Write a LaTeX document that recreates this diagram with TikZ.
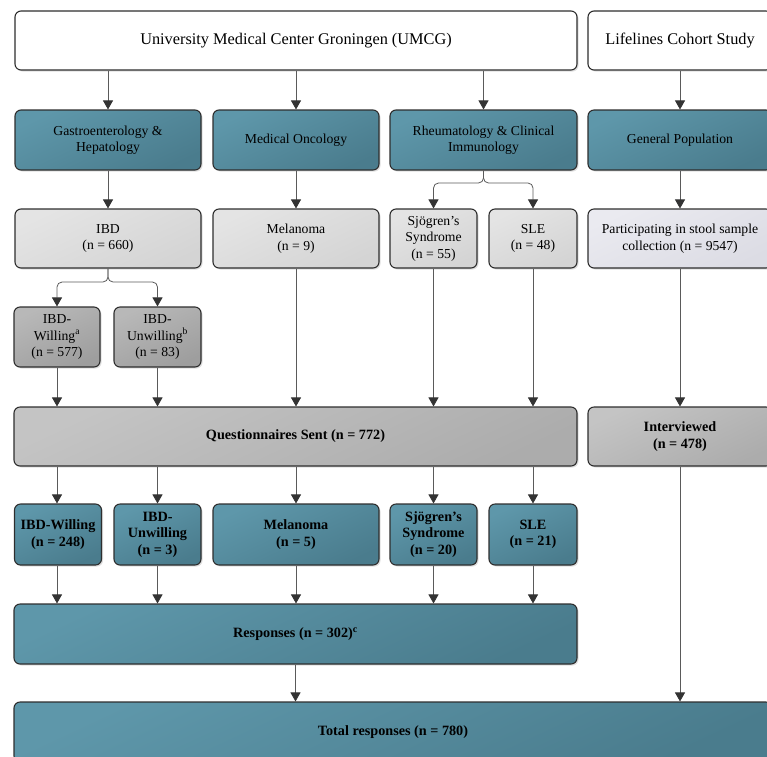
\documentclass[tikz,border=0pt]{standalone}
\usepackage{fontspec}
\setmainfont{Liberation Serif}
\usetikzlibrary{arrows.meta,shadows}
\definecolor{tealL}{HTML}{5E97AA}
\definecolor{tealD}{HTML}{4A7C8D}
\definecolor{grayL}{HTML}{E4E4E4}
\definecolor{grayLD}{HTML}{D4D4D4}
\definecolor{grayM}{HTML}{C4C4C4}
\definecolor{grayMD}{HTML}{ACACAC}
\definecolor{grayW}{HTML}{B8B8B8}
\definecolor{grayWD}{HTML}{9E9E9E}
\definecolor{lav}{HTML}{EAEAF0}
\definecolor{lavD}{HTML}{DCDCE4}
\definecolor{edge}{HTML}{2E2E2E}
\definecolor{linec}{HTML}{5A5A5A}
\definecolor{tipc}{HTML}{333333}
\tikzset{
  base/.style={draw=edge, line width=1.1pt, rounded corners=6pt, align=center,
    inner sep=2pt, drop shadow={opacity=0.25, shadow xshift=1.5pt, shadow yshift=-1.5pt}},
  grad/.style 2 args={left color=#1, right color=#2, shading angle=25},
  whitebox/.style={base, fill=white, font=\fontsize{16.3}{19}\selectfont},
  tealbox/.style={base, grad={tealL}{tealD}, font=\fontsize{13.7}{16.5}\selectfont},
  tealbold/.style={base, grad={tealL}{tealD}, font=\fontsize{14.2}{16.5}\selectfont\bfseries},
  lightbox/.style={base, grad={grayL}{grayLD}, font=\fontsize{13.7}{16.5}\selectfont},
  lavbox/.style={base, grad={lav}{lavD}, font=\fontsize{13.7}{16.5}\selectfont},
  willbox/.style={base, grad={grayW}{grayWD}, font=\fontsize{13.7}{16.5}\selectfont},
  qbox/.style={base, grad={grayM}{grayMD}, font=\fontsize{14.2}{16.5}\selectfont\bfseries},
  arr/.style={draw=linec, line width=0.8pt, -{Triangle[width=10pt,length=9pt,color=tipc]}},
  brace/.style={arr, rounded corners=5pt}
}
\begin{document}
\begin{tikzpicture}[x=1pt,y=-1pt]
\useasboundingbox (0,0) rectangle (767,756);
% row 1
\node[whitebox, minimum width=562pt, minimum height=59pt] (umcg) at (296,40.5) {University Medical Center Groningen (UMCG)};
\node[whitebox, minimum width=184pt, minimum height=59pt] (life) at (680,40.5) {Lifelines Cohort Study};
% row 2
\node[tealbox, minimum width=186pt, minimum height=60pt] (gastro) at (108,140) {Gastroenterology \&\\Hepatology};
\node[tealbox, minimum width=166pt, minimum height=60pt] (onc) at (296,140) {Medical Oncology};
\node[tealbox, minimum width=187pt, minimum height=60pt] (rheum) at (483.5,140) {Rheumatology \& Clinical\\Immunology};
\node[tealbox, minimum width=184pt, minimum height=60pt] (gen) at (680,140) {General Population};
% row 3
\node[lightbox, minimum width=186pt, minimum height=59pt] (ibd) at (108,238.5) {IBD\\(n = 660)};
\node[lightbox, minimum width=166pt, minimum height=59pt] (mel) at (296,238.5) {Melanoma\\(n = 9)};
\node[lightbox, minimum width=87pt, minimum height=59pt] (sjo) at (433.5,238.5) {Sjögren's\\Syndrome\\(n = 55)};
\node[lightbox, minimum width=88pt, minimum height=59pt] (sle) at (533,238.5) {SLE\\(n = 48)};
\node[lavbox, minimum width=184pt, minimum height=59pt] (part) at (680,238.5) {Participating in stool sample\\collection (n = 9547)};
% row 4
\node[willbox, minimum width=86pt, minimum height=60pt] (ibdw) at (57,337) {IBD-\\Willing\textsuperscript{a}\\(n = 577)};
\node[willbox, minimum width=87pt, minimum height=60pt] (ibdu) at (157.5,337) {IBD-\\Unwilling\textsuperscript{b}\\(n = 83)};
% row 5
\node[qbox, minimum width=563pt, minimum height=59pt] (qs) at (295.5,436.5) {Questionnaires Sent (n = 772)};
\node[qbox, minimum width=184pt, minimum height=59pt] (intv) at (680,436.5) {Interviewed\\(n = 478)};
% row 6
\node[tealbold, minimum width=87pt, minimum height=61pt] (rw) at (58,534.5) {IBD-Willing\\(n = 248)};
\node[tealbold, minimum width=87pt, minimum height=61pt] (ru) at (157.5,534.5) {IBD-\\Unwilling\\(n = 3)};
\node[tealbold, minimum width=166pt, minimum height=61pt] (rm) at (296,534.5) {Melanoma\\(n = 5)};
\node[tealbold, minimum width=87pt, minimum height=61pt] (rs) at (433.5,534.5) {Sjögren's\\Syndrome\\(n = 20)};
\node[tealbold, minimum width=88pt, minimum height=61pt] (rl) at (533,534.5) {SLE\\(n = 21)};
% row 7
\node[tealbold, minimum width=563pt, minimum height=60pt] (resp) at (295.5,634) {Responses (n = 302)\textsuperscript{c}};
% row 8
\node[tealbold, minimum width=758pt, minimum height=60pt] (total) at (393,732) {Total responses (n = 780)};
% arrows row1->row2
\draw[arr] (umcg.south -| gastro) -- (gastro);
\draw[arr] (umcg.south -| onc) -- (onc);
\draw[arr] (umcg.south -| rheum) -- (rheum);
\draw[arr] (life) -- (gen);
% row2->row3
\draw[arr] (gastro) -- (ibd);
\draw[arr] (onc) -- (mel);
\coordinate (rj) at (483.5,183);
\draw[brace] (rheum.south) -- (rj) -| (sjo.north);
\draw[brace] (rheum.south) -- (rj) -| (sle.north);
\draw[arr] (gen) -- (part);
% ibd split
\coordinate (ij) at (108,282);
\draw[brace] (ibd.south) -- (ij) -| (ibdw.north);
\draw[brace] (ibd.south) -- (ij) -| (ibdu.north);
% to questionnaires
\draw[arr] (ibdw.south) -- (qs.north -| ibdw);
\draw[arr] (ibdu.south) -- (qs.north -| ibdu);
\draw[arr] (mel.south) -- (qs.north -| mel);
\draw[arr] (sjo.south) -- (qs.north -| sjo);
\draw[arr] (sle.south) -- (qs.north -| sle);
\draw[arr] (part) -- (intv);
% to row 6
\draw[arr] (qs.south -| ibdw) -- (rw.north -| ibdw);
\draw[arr] (qs.south -| ru) -- (ru.north);
\draw[arr] (qs.south -| rm) -- (rm.north);
\draw[arr] (qs.south -| rs) -- (rs.north);
\draw[arr] (qs.south -| rl) -- (rl.north);
% to responses
\draw[arr] (rw.south -| ibdw) -- (resp.north -| ibdw);
\draw[arr] (ru.south) -- (resp.north -| ru);
\draw[arr] (rm.south) -- (resp.north -| rm);
\draw[arr] (rs.south) -- (resp.north -| rs);
\draw[arr] (rl.south) -- (resp.north -| rl);
% to total
\draw[arr] (resp.south) -- (total.north -| resp);
\draw[arr] (intv.south) -- (total.north -| intv);
\end{tikzpicture}
\end{document}
